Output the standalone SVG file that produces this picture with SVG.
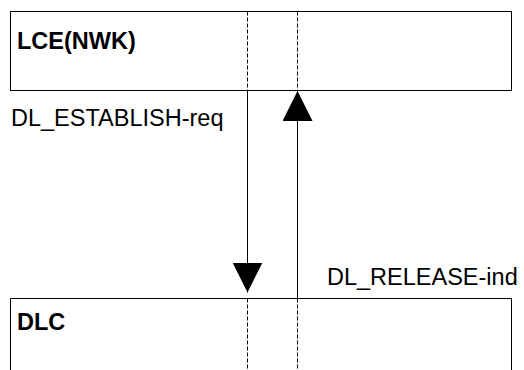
<svg xmlns="http://www.w3.org/2000/svg" width="524" height="370" viewBox="0 0 524 370">
<style>
.box{fill:#fff;stroke:#000;stroke-width:1}
.life{stroke:#000;stroke-width:1;stroke-dasharray:4 2;fill:none}
.msg{stroke:#000;stroke-width:1;fill:none}
.lbl{font-family:"Liberation Sans",Arial,sans-serif;font-size:23.5px;fill:#000}
.title{font-family:"Liberation Sans",Arial,sans-serif;font-size:23.5px;font-weight:bold;fill:#000}
</style>
<defs>
<marker id="ah" viewBox="0 0 30 30" refX="30" refY="15" markerWidth="30" markerHeight="30" markerUnits="userSpaceOnUse" orient="auto">
<path d="M0,0 L30,15 L0,30 Z" fill="#000"/>
</marker>
</defs>
<rect width="524" height="370" fill="#fff"/>
<g id="lce">
<rect class="box" x="10.5" y="11.5" width="501" height="79"/>
<line class="life" x1="247.5" y1="11.5" x2="247.5" y2="90.5"/>
<line class="life" x1="297.5" y1="11.5" x2="297.5" y2="90.5"/>
<text class="title" x="17" y="49">LCE(NWK)</text>
</g>
<g id="dlc">
<path class="box" d="M10.5,375 V298.5 H511.5 V375"/>
<line class="life" x1="247.5" y1="298.5" x2="247.5" y2="370"/>
<line class="life" x1="297.5" y1="298.5" x2="297.5" y2="370"/>
<text class="title" x="17" y="330">DLC</text>
</g>
<g id="connectors">
<line class="msg" x1="247.5" y1="90.5" x2="247.5" y2="292.5" marker-end="url(#ah)"/>
<line class="msg" x1="297.5" y1="298.5" x2="297.5" y2="91" marker-end="url(#ah)"/>
<text class="lbl" x="11" y="126">DL_ESTABLISH-req</text>
<text class="lbl" x="327" y="285">DL_RELEASE-ind</text>
</g>
</svg>
